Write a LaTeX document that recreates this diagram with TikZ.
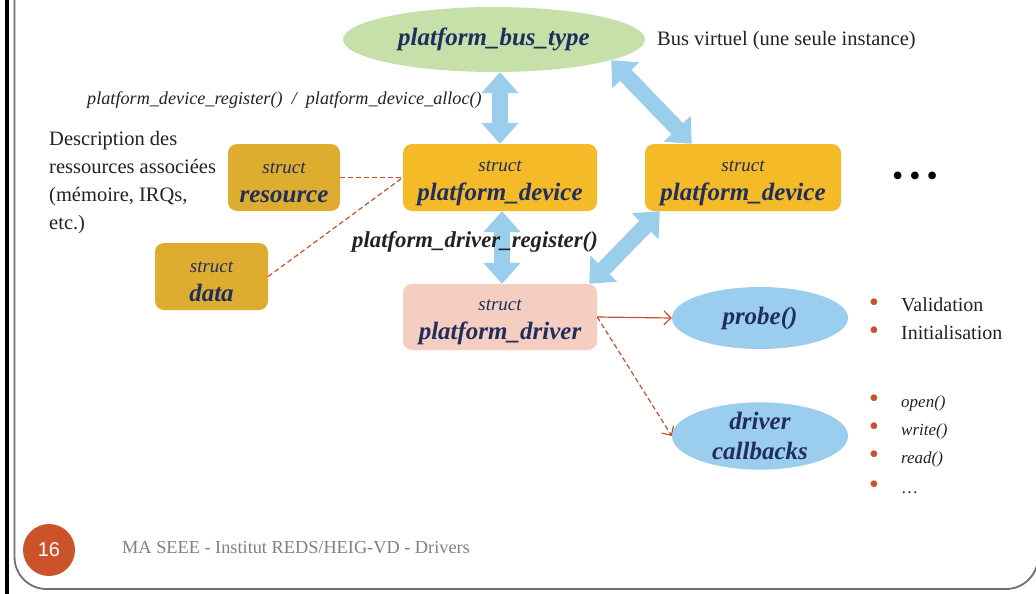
\documentclass[tikz,border=0pt]{standalone}
\usepackage{fontspec}
\setmainfont{Liberation Serif}
\newfontfamily\pagenumfont{Liberation Sans}
\usetikzlibrary{arrows.meta,shapes.geometric,calc}

\definecolor{busgreen}{HTML}{C6E0AA}
\definecolor{devgold}{HTML}{F4BA28}
\definecolor{resgold}{HTML}{DEAD2F}
\definecolor{drvpink}{HTML}{F6CEC1}
\definecolor{cbblue}{HTML}{9ACDEE}
\definecolor{arrowblue}{HTML}{9BCDEC}
\definecolor{navy}{HTML}{1F2E5C}
\definecolor{linkred}{HTML}{C4522F}
\definecolor{pagered}{HTML}{CC5229}
\definecolor{footgray}{HTML}{808080}
\definecolor{framegray}{HTML}{707070}
\definecolor{ink}{HTML}{222222}

\newcommand{\structfont}{\fontsize{19}{22}\selectfont\itshape}
\newcommand{\namefont}{\fontsize{25}{29}\selectfont\bfseries\itshape}
% the strut on the first line lowers the two-line label a little in its box
\newcommand{\structlabel}[1]{\rule{0pt}{22pt}{\structfont struct}\\{\namefont #1}}
\newcommand{\redbullet}{\makebox[32pt][l]{\textcolor{linkred}{\fontsize{28}{20}\selectfont •}}}

\tikzset{
  box/.style={rounded corners=9pt, inner sep=0pt, align=center, text=navy,
    font=\fontsize{25}{29}\selectfont},
  oval/.style={ellipse, inner sep=0pt, align=center, text=navy,
    font=\fontsize{25}{30}\selectfont\bfseries\itshape},
  bigarrow/.style={draw=arrowblue, line width=16pt,
    {Triangle[width=36pt,length=21pt]}-{Triangle[width=36pt,length=21pt]}},
  dashlink/.style={draw=linkred, line width=1.2pt, dash pattern=on 5pt off 3pt},
  itemtext/.style={anchor=west, inner sep=0pt, text=ink},
}

\begin{document}
\begin{tikzpicture}[x=1pt, y=-1pt]
\useasboundingbox (0,0) rectangle (1036,594);

% slide frame
\begin{scope}
\clip (0,0) rectangle (1036,594);
\draw[line width=3.2pt, black] (7,-5) -- (7,600);
\draw[line width=1.8pt, framegray, rounded corners=32pt]
  (14.5,-10) -- (14.5,589) -- (1038,589) -- (1038,-10);
\end{scope}

% bus and devices
\node[oval, fill=busgreen, minimum width=302, minimum height=65] (bus) at (494,39.5) {platform\_bus\_type};
\node[anchor=west, inner sep=0pt, text=ink, font=\fontsize{20.5}{24}\selectfont] (busnote) at (657,41) {Bus virtuel (une seule instance)};

\node[box, fill=resgold, minimum width=112, minimum height=67] (res) at (284,177.5) {\structlabel{resource}};
\node[box, fill=devgold, minimum width=194, minimum height=67] (pd1) at (500,177.5) {\structlabel{platform\_device}};
\node[box, fill=devgold, minimum width=196, minimum height=67] (pd2) at (743,177.5) {\structlabel{platform\_device}};
\node[box, fill=resgold, minimum width=113, minimum height=67] (data) at (211.5,276.5) {\structlabel{data}};
\node[box, fill=drvpink, minimum width=194, minimum height=66] (drv) at (500,317) {\structlabel{platform\_driver}};

\node[inner sep=0pt, text=black, font=\fontsize{32}{32}\selectfont] (more) at (915,179) {•\hspace{6pt}•\hspace{6pt}•};

\node[oval, fill=cbblue, minimum width=176, minimum height=62] (probe) at (760,318) {probe()};
\node[oval, fill=cbblue, minimum width=176, minimum height=62] (cb) at (760,436) {driver\\callbacks};

% labels
\node[anchor=west, inner sep=0pt, text=ink, font=\fontsize{18.2}{20}\selectfont\itshape] (devreg) at (87,100)
  {platform\_device\_register()\ \ /\ \ platform\_device\_alloc()};
\node[anchor=north west, inner sep=0pt, align=left, text=ink, font=\fontsize{20.5}{28}\selectfont] (desc) at (49,131)
  {Description des\\ressources associées\\(mémoire, IRQs,\\etc.)};

% blue double arrows
\draw[bigarrow] (pd1.north |- bus.south) -- (pd1.north);
\draw[bigarrow] (bus.-10.5) -- ([xshift=47pt]pd2.north west);
\draw[bigarrow] ([xshift=2pt]pd1.south) -- ([xshift=2pt]drv.north);
\draw[bigarrow] ([xshift=15pt]pd2.south west) -- ([xshift=-8pt]drv.north east);

\node[inner sep=0pt, text=ink, font=\fontsize{22.8}{24}\selectfont\bfseries\itshape] (drvreg) at (475,242)
  {platform\_driver\_register()};

% red links
\draw[dashlink] (res.east) -- (pd1.west);
\draw[dashlink] (data.east) -- (pd1.west);
\draw[draw=linkred, line width=1.2pt, -{Straight Barb[length=7pt,width=14pt]}] (drv.east) -- (probe.west);
\draw[dashlink, -{Straight Barb[length=7pt,width=14pt]}] (drv.east) -- (cb.west);

% bullet lists
\node[itemtext, font=\fontsize{20}{22}\selectfont] (l1) at (869,305) {\redbullet Validation};
\node[itemtext, font=\fontsize{20}{22}\selectfont] (l2) at (869,333) {\redbullet Initialisation};
\node[itemtext, font=\fontsize{17}{20}\selectfont] (c1) at (869,403) {\redbullet \textit{open()}};
\node[itemtext, font=\fontsize{17}{20}\selectfont] (c2) at (869,431) {\redbullet \textit{write()}};
\node[itemtext, font=\fontsize{17}{20}\selectfont] (c3) at (869,459) {\redbullet \textit{read()}};
\node[itemtext, font=\fontsize{17}{20}\selectfont] (c4) at (869,487) {\redbullet …};

% footer
\node[circle, fill=pagered, minimum size=52, inner sep=0pt, text=white,
  font=\fontsize{20}{20}\pagenumfont] (page) at (49,550) {16};
\node[anchor=west, inner sep=0pt, text=footgray, font=\fontsize{18.3}{20}\selectfont] (foot) at (122,548)
  {MA SEEE - Institut REDS/HEIG-VD - Drivers};
\end{tikzpicture}
\end{document}
